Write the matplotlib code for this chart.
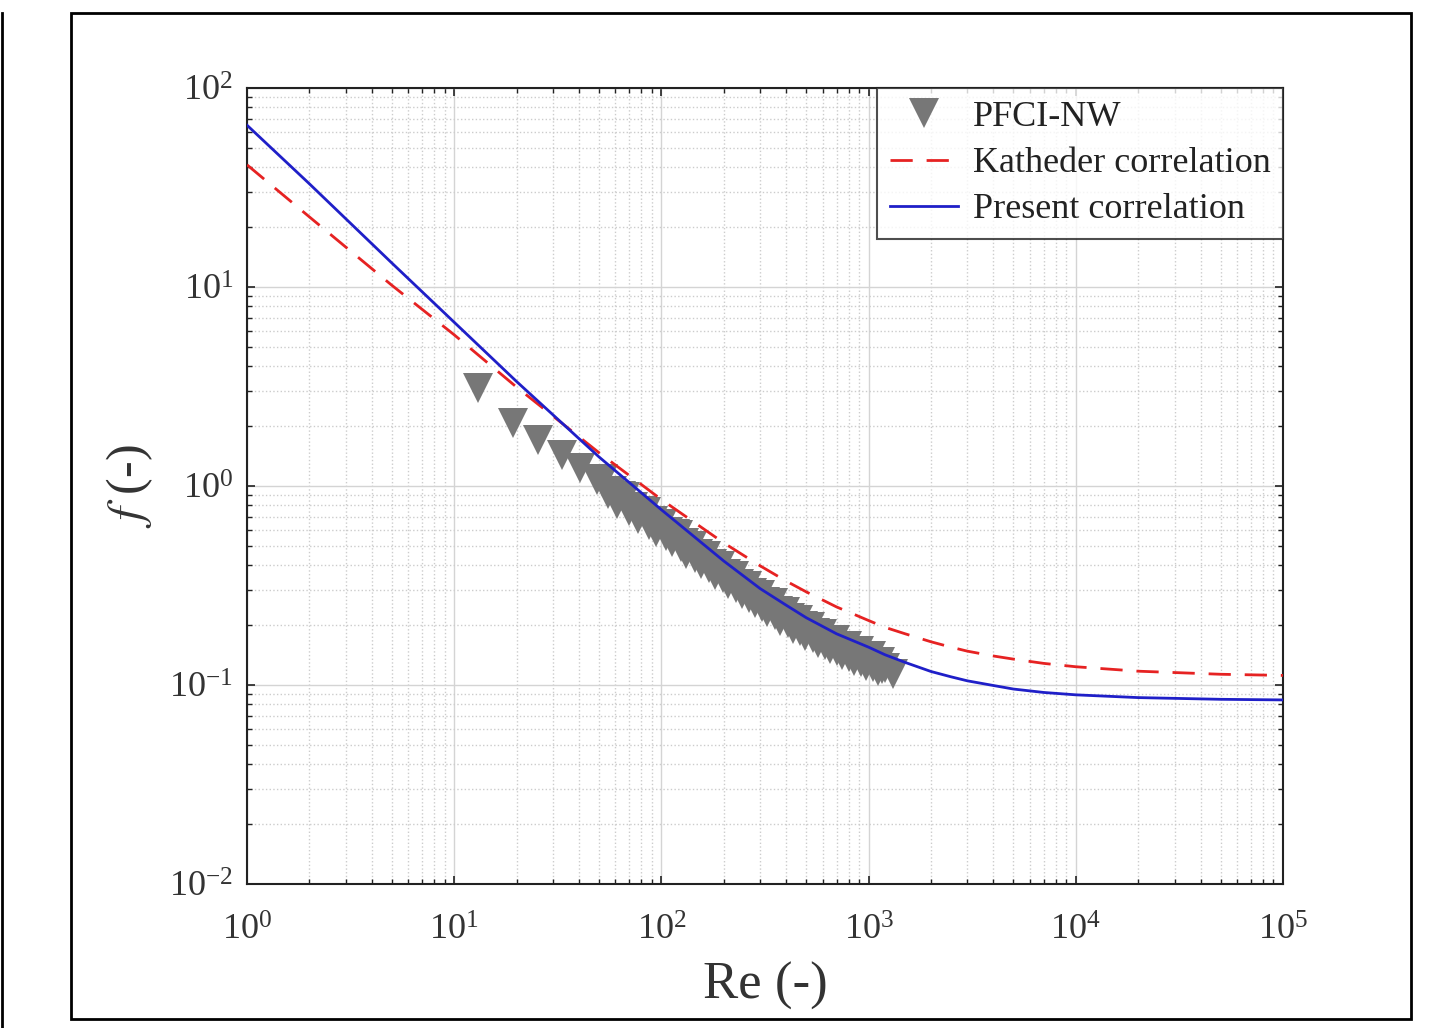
import matplotlib
matplotlib.use('Agg')
import matplotlib.pyplot as plt
from matplotlib.patches import Rectangle
from matplotlib.lines import Line2D
from matplotlib.ticker import LogLocator, LogFormatterMathtext, NullFormatter

plt.rcParams['font.family'] = ['Liberation Serif', 'DejaVu Serif']
plt.rcParams['mathtext.fontset'] = 'stix'
plt.rcParams['axes.unicode_minus'] = False

# PFCI-NW measured points (Re, f)
re_pfci = [13.0, 19.2, 25.4, 33.1, 40.4, 48.9, 52, 55, 58, 61, 64, 67, 70, 73, 77, 80,
           84, 87, 91, 94, 98, 101, 105, 108, 112, 116, 120, 124, 128, 132, 137, 141,
           146, 150, 155, 160, 165, 170, 176, 181, 186, 192, 198, 204, 210, 217, 223,
           230, 237, 244, 251, 259, 266, 274, 282, 290, 298, 307, 316, 325, 334, 344,
           354, 364, 374, 385, 396, 407, 418, 430, 442, 455, 468, 481, 494, 508, 522,
           537, 552, 567, 583, 599, 616, 633, 650, 668, 686, 705, 724, 744, 764, 785,
           806, 828, 850, 873, 896, 920, 945, 970, 996, 1022, 1049, 1077, 1105, 1135,
           1165, 1195, 1312]
f_pfci = [3.10, 2.07, 1.70, 1.43, 1.23, 1.07, 1.085, 0.907, 0.943, 0.812, 0.894, 0.884, 0.752,
          0.788, 0.680, 0.752, 0.742, 0.639, 0.666, 0.588, 0.646, 0.648, 0.558, 0.590, 0.521,
          0.571, 0.570, 0.492, 0.519, 0.458, 0.501, 0.502, 0.434, 0.458, 0.405, 0.445, 0.446,
          0.387, 0.404, 0.359, 0.398, 0.397, 0.344, 0.361, 0.321, 0.352, 0.352, 0.307, 0.321,
          0.286, 0.315, 0.315, 0.275, 0.289, 0.257, 0.284, 0.283, 0.248, 0.260, 0.232, 0.257,
          0.257, 0.224, 0.236, 0.210, 0.232, 0.234, 0.204, 0.216, 0.192, 0.212, 0.213, 0.187,
          0.197, 0.177, 0.195, 0.196, 0.172, 0.182, 0.162, 0.180, 0.181, 0.159, 0.168, 0.151,
          0.167, 0.168, 0.148, 0.157, 0.141, 0.156, 0.157, 0.139, 0.147, 0.132, 0.147, 0.148,
          0.130, 0.138, 0.124, 0.138, 0.140, 0.123, 0.130, 0.118, 0.131, 0.121, 0.122, 0.113]

# Katheder correlation (Re, f)
re_kath = [1, 2, 5, 10, 20, 50, 100, 200, 300, 400, 500, 700, 1000, 1200, 1500, 2000, 2500,
           3000, 4000, 5000, 7000, 10000, 20000, 50000, 100000]
f_kath = [41.1, 22.5, 10.2, 5.75, 3.14, 1.47, 0.855, 0.518, 0.397, 0.333, 0.294, 0.247, 0.211,
          0.195, 0.181, 0.165, 0.155, 0.148, 0.140, 0.135, 0.1285, 0.1236, 0.1174, 0.1133, 0.1118]

# Present correlation (Re, f)
re_pres = [1, 2, 5, 10, 20, 50, 100, 200, 300, 400, 500, 700, 1000, 1200, 1500, 2000, 2500,
           3000, 4000, 5000, 7000, 10000, 20000, 50000, 100000]
f_pres = [65.0, 33.0, 13.2, 6.65, 3.35, 1.40, 0.76, 0.42, 0.305, 0.252, 0.218, 0.181, 0.155,
          0.142, 0.130, 0.117, 0.110, 0.105, 0.0995, 0.0955, 0.0918, 0.0893, 0.0865, 0.0848, 0.0842]

fig = plt.figure(figsize=(14.33, 10.28), dpi=100)
ax = fig.add_axes([0.1724, 0.140, 0.7229, 0.7744])

ax.plot(re_pfci, f_pfci, 'v', color='#777777', markersize=21, markeredgewidth=0,
        label='PFCI-NW', zorder=3)
ax.plot(re_kath, f_kath, '--', color='#e62222', linewidth=2.0, dashes=(8, 5),
        label='Katheder correlation', zorder=4)
ax.plot(re_pres, f_pres, '-', color='#1f1fc8', linewidth=2.0,
        label='Present correlation', zorder=5)

ax.set_xscale('log')
ax.set_yscale('log')
ax.set_xlim(1, 1e5)
ax.set_ylim(1e-2, 1e2)

ax.xaxis.set_major_locator(LogLocator(base=10, numticks=10))
ax.yaxis.set_major_locator(LogLocator(base=10, numticks=10))
ax.xaxis.set_minor_locator(LogLocator(base=10, subs=range(2, 10), numticks=20))
ax.yaxis.set_minor_locator(LogLocator(base=10, subs=range(2, 10), numticks=20))
ax.xaxis.set_major_formatter(LogFormatterMathtext())
ax.yaxis.set_major_formatter(LogFormatterMathtext())
ax.xaxis.set_minor_formatter(NullFormatter())
ax.yaxis.set_minor_formatter(NullFormatter())

ax.grid(True, which='major', color='#d4d4d4', linestyle='-', linewidth=1.0)
ax.grid(True, which='minor', color='#cccccc', linestyle=':', linewidth=1.0)
ax.set_axisbelow(True)

ax.tick_params(which='both', direction='in', top=True, right=True, colors='#222222')
ax.tick_params(which='major', length=6, width=1.2, labelsize=26, labelcolor='#333333')
ax.tick_params(axis='x', which='major', pad=22)
ax.tick_params(axis='y', which='major', pad=10)
ax.tick_params(which='minor', length=3.5, width=1.0)
for s in ax.spines.values():
    s.set_linewidth(1.5)
    s.set_color('#222222')

ax.set_xlabel('Re (-)', fontsize=38, color='#333333', labelpad=10)
ax.set_ylabel(r'$f$ (-)', fontsize=36, color='#333333', labelpad=10)

leg = ax.legend(loc='upper right', fontsize=26, frameon=True, fancybox=False,
                borderaxespad=0, handlelength=1.9, handletextpad=0.4,
                labelspacing=0.36, borderpad=0.35, markerscale=1.0)
leg.get_frame().set_edgecolor('#222222')
leg.get_frame().set_linewidth(1.5)
for t in leg.get_texts():
    t.set_color('#222222')

# figure frame
W, H = 1433.0, 1028.0
fig.add_artist(Rectangle((71 / W, 1 - 1019 / H), (1411 - 71) / W, (1019 - 13) / H,
                         transform=fig.transFigure, fill=False, edgecolor='black', linewidth=2))
fig.add_artist(Line2D([2 / W, 2 / W], [0, 1 - 13 / H], transform=fig.transFigure,
                      color='black', linewidth=2))

fig.savefig('out.png', dpi=100)
